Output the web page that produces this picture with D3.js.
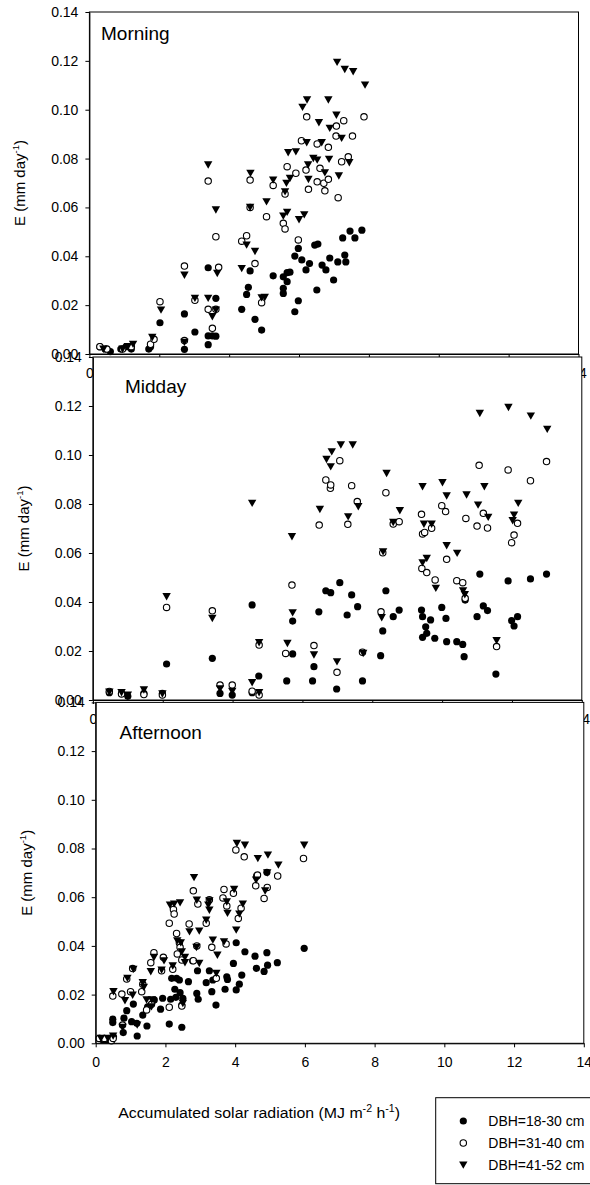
<!DOCTYPE html>
<html><head><meta charset="utf-8">
<script src="https://cdn.jsdelivr.net/npm/d3@7"></script>
<style>
body{margin:0;background:#fff}
text{font-family:Arial,"Liberation Sans",sans-serif;fill:#000}
</style>
</head><body><svg id="c" width="590" height="1185"></svg>
<script>
// ---------------- DATA ----------------
const panelNames = ["Morning", "Midday", "Afternoon"];
const xTicks = [0, 2, 4, 6, 8, 10, 12, 14];
const yTicks = [0, 0.02, 0.04, 0.06, 0.08, 0.10, 0.12, 0.14];
const seriesLabels = ["DBH=18-30 cm", "DBH=31-40 cm", "DBH=41-52 cm"];
const xTitle = "Accumulated solar radiation";

// Morning
const morningDBH18 = [[0.3,0.003],[0.45,0.002],[0.6,0.001],[0.9,0.002],[1.05,0.003],[1.2,0.002],[1.7,0.002],[1.75,0.003],[2.02,0.0128],[2.72,0.0164],[2.72,0.0019],[3.02,0.009],[3.40,0.0353],[3.40,0.0074],[3.40,0.0038],[3.52,0.0074],[3.62,0.0228],[3.62,0.0073],[4.36,0.0183],[4.5,0.0244],[4.55,0.0273],[4.6,0.034],[4.74,0.0142],[4.93,0.0098],[5.26,0.032],[5.55,0.0248],[5.55,0.0269],[5.55,0.0316],[5.66,0.0296],[5.66,0.0333],[5.74,0.0335],[5.88,0.0401],[5.88,0.0173],[5.98,0.0432],[5.98,0.0218],[6.08,0.0385],[6.2,0.0344],[6.3,0.037],[6.45,0.0446],[6.54,0.045],[6.66,0.0364],[6.77,0.0344],[6.88,0.0393],[6.99,0.0303],[7.11,0.0377],[7.25,0.0475],[7.31,0.0405],[7.46,0.0503],[7.6,0.0475],[7.8,0.0507],[7.34,0.0377],[6.51,0.0262]];
const morningDBH31 = [[0.3,0.003],[0.5,0.002],[0.95,0.002],[1.2,0.003],[1.75,0.004],[1.85,0.006],[2.02,0.0214],[2.72,0.036],[2.72,0.0055],[3.02,0.022],[3.40,0.0708],[3.40,0.0183],[3.52,0.0105],[3.62,0.048],[3.62,0.0183],[3.70,0.0355],[4.36,0.0462],[4.5,0.0484],[4.6,0.0712],[4.6,0.060],[4.74,0.037],[4.93,0.021],[5.07,0.0562],[5.26,0.069],[5.55,0.0535],[5.6,0.0512],[5.6,0.0655],[5.66,0.0767],[5.91,0.074],[5.98,0.0467],[6.07,0.0873],[6.2,0.0753],[6.22,0.0971],[6.27,0.0674],[6.52,0.086],[6.52,0.0705],[6.6,0.076],[6.71,0.0699],[6.74,0.0668],[6.84,0.0846],[6.84,0.0715],[7.06,0.0892],[7.07,0.0933],[7.12,0.064],[7.22,0.0787],[7.28,0.0955],[7.41,0.0807],[7.53,0.0892],[7.86,0.0971]];
const morningDBH41 = [[0.4,0.002],[0.95,0.002],[1.1,0.003],[1.25,0.004],[1.8,0.0068],[2.05,0.018],[2.72,0.0323],[2.72,0.0048],[3.02,0.0228],[3.40,0.0774],[3.40,0.0228],[3.52,0.0153],[3.62,0.059],[3.66,0.033],[3.62,0.018],[4.36,0.035],[4.5,0.0446],[4.61,0.074],[4.6,0.060],[4.74,0.042],[4.93,0.023],[5.02,0.0232],[5.07,0.0623],[5.26,0.0712],[5.55,0.0565],[5.6,0.0664],[5.64,0.0699],[5.66,0.058],[5.69,0.0824],[5.74,0.0719],[5.91,0.0828],[6.10,0.101],[6.22,0.0865],[6.23,0.104],[6.26,0.0774],[6.27,0.0715],[6.41,0.0801],[6.52,0.0794],[6.57,0.0947],[6.65,0.0865],[6.74,0.0742],[6.84,0.104],[6.86,0.0797],[6.88,0.0924],[7.07,0.0978],[7.09,0.1194],[7.14,0.0729],[7.22,0.0883],[7.31,0.1165],[7.44,0.0783],[7.55,0.1156],[7.89,0.1101],[6.15,0.057],[6.0,0.055]];

// Midday
const middayDBH18 = [[0.47,0.0030],[0.82,0.0027],[1.0,0.0015],[1.46,0.0027],[1.99,0.0027],[2.11,0.0147],[3.42,0.017],[3.64,0.0027],[3.99,0.002],[4.56,0.0388],[4.56,0.003],[4.75,0.0098],[5.55,0.0078],[5.72,0.0188],[5.72,0.0322],[6.29,0.0078],[6.33,0.0136],[6.47,0.036],[6.67,0.0446],[6.81,0.0438],[6.98,0.0045],[7.07,0.0479],[7.28,0.0347],[7.41,0.0429],[7.58,0.0381],[7.72,0.0078],[8.24,0.0181],[8.30,0.0282],[8.39,0.0446],[8.60,0.034],[8.77,0.0367],[9.41,0.0367],[9.44,0.034],[9.44,0.0256],[9.53,0.0299],[9.56,0.0272],[9.67,0.0327],[9.79,0.0252],[9.99,0.0378],[10.11,0.0333],[10.13,0.0238],[10.42,0.0238],[10.59,0.0227],[10.63,0.0177],[10.66,0.0408],[11.0,0.034],[11.08,0.0514],[11.18,0.0384],[11.3,0.0365],[11.54,0.0106],[11.89,0.0486],[11.99,0.0324],[12.06,0.0302],[12.16,0.034],[12.53,0.0494],[12.99,0.0514]];
const middayDBH31 = [[0.47,0.0035],[0.82,0.0025],[1.46,0.0022],[1.99,0.002],[2.11,0.0378],[3.42,0.0364],[3.64,0.0061],[3.99,0.0061],[4.56,0.0036],[4.76,0.0224],[4.76,0.002],[5.52,0.019],[5.70,0.0469],[6.33,0.0222],[6.48,0.0714],[6.67,0.0898],[6.80,0.0864],[6.81,0.0878],[6.99,0.0113],[7.07,0.0977],[7.30,0.0717],[7.41,0.0875],[7.57,0.081],[7.72,0.0195],[8.25,0.036],[8.30,0.0601],[8.39,0.0846],[8.60,0.0718],[8.77,0.0728],[9.41,0.0758],[9.42,0.0537],[9.44,0.0678],[9.50,0.0684],[9.56,0.052],[9.70,0.0701],[9.80,0.049],[9.99,0.0793],[10.10,0.0769],[10.13,0.0574],[10.42,0.0487],[10.59,0.0479],[10.66,0.0415],[10.68,0.0741],[11.0,0.071],[11.06,0.0958],[11.18,0.0762],[11.30,0.0702],[11.56,0.0218],[11.89,0.0939],[11.99,0.0642],[12.06,0.0673],[12.16,0.0721],[12.53,0.0895],[12.99,0.0973]];
const middayDBH41 = [[0.47,0.0032],[0.82,0.003],[1.0,0.002],[1.46,0.0041],[1.99,0.0025],[2.11,0.0422],[3.42,0.0333],[3.64,0.0045],[3.99,0.0035],[4.56,0.0803],[4.56,0.0071],[4.76,0.0234],[4.76,0.003],[5.57,0.0231],[5.70,0.0667],[5.72,0.0356],[6.33,0.0184],[6.50,0.0778],[6.69,0.0982],[6.81,0.0952],[6.84,0.1013],[6.99,0.0156],[7.10,0.1041],[7.31,0.0748],[7.44,0.1041],[7.60,0.0789],[7.74,0.019],[8.27,0.0336],[8.31,0.0605],[8.41,0.0925],[8.60,0.0725],[8.79,0.0773],[9.44,0.0871],[9.44,0.056],[9.48,0.0718],[9.56,0.0578],[9.70,0.0718],[9.82,0.0456],[10.01,0.0887],[10.13,0.0833],[10.13,0.063],[10.43,0.0599],[10.60,0.0446],[10.65,0.043],[10.70,0.0837],[11.03,0.0796],[11.08,0.117],[11.21,0.0871],[11.32,0.0746],[11.56,0.0242],[11.90,0.1194],[12.02,0.0732],[12.06,0.0755],[12.18,0.0803],[12.54,0.1159],[13.01,0.1105]];

// Afternoon
const afternoonDBH18 = [[0.12,0.002],[0.2,0.0015],[0.32,0.0015],[0.4,0.002],[0.49,0.0099],[0.49,0.0085],[0.51,0.0027],[0.79,0.0044],[0.81,0.0103],[0.89,0.0134],[1.03,0.0089],[1.08,0.0161],[1.18,0.0082],[1.19,0.003],[1.35,0.0116],[1.47,0.0071],[1.49,0.015],[1.68,0.0178],[1.86,0.014],[1.92,0.0185],[2.11,0.0079],[2.15,0.0181],[2.18,0.0267],[2.27,0.0222],[2.3,0.0189],[2.32,0.0267],[2.40,0.026],[2.42,0.0208],[2.47,0.0157],[2.47,0.0066],[2.50,0.0185],[2.66,0.0253],[2.78,0.0339],[2.90,0.0205],[2.92,0.0298],[2.94,0.0181],[3.17,0.0249],[3.26,0.0298],[3.33,0.0212],[3.36,0.026],[3.45,0.0157],[3.71,0.0222],[3.76,0.0273],[3.78,0.0262],[3.95,0.0328],[4.03,0.0413],[4.03,0.0219],[4.12,0.0243],[4.19,0.028],[4.28,0.0376],[4.57,0.0358],[4.61,0.0308],[4.83,0.0295],[4.91,0.0372],[4.93,0.0321],[4.91,0.0702],[5.21,0.0331],[5.98,0.039]];
const afternoonDBH31 = [[0.1,0.002],[0.25,0.002],[0.45,0.001],[0.49,0.0194],[0.5,0.002],[0.75,0.0202],[0.77,0.0075],[0.89,0.0264],[1.0,0.0212],[1.06,0.0307],[1.32,0.0212],[1.35,0.0242],[1.46,0.0137],[1.58,0.0331],[1.6,0.016],[1.67,0.0372],[1.89,0.0298],[1.94,0.0353],[2.11,0.0493],[2.11,0.0148],[2.21,0.0304],[2.23,0.055],[2.25,0.0531],[2.32,0.0451],[2.34,0.0367],[2.40,0.0413],[2.42,0.0394],[2.47,0.0342],[2.47,0.0153],[2.68,0.049],[2.80,0.0626],[2.80,0.0339],[2.90,0.04],[2.93,0.0572],[3.17,0.0493],[3.26,0.059],[3.33,0.0394],[3.46,0.0267],[3.65,0.0597],[3.68,0.0632],[3.74,0.0408],[3.76,0.0564],[3.95,0.0616],[4.02,0.0794],[4.09,0.0513],[4.17,0.0555],[4.26,0.0766],[4.59,0.0647],[4.62,0.0687],[4.64,0.0691],[4.83,0.0595],[4.92,0.064],[5.22,0.0687],[5.96,0.0759]];
const afternoonDBH41 = [[0.15,0.002],[0.35,0.002],[0.51,0.0212],[0.5,0.003],[0.77,0.0065],[0.84,0.0175],[0.91,0.0267],[1.06,0.0198],[1.08,0.0304],[1.19,0.0075],[1.35,0.0249],[1.38,0.023],[1.46,0.0178],[1.58,0.0294],[1.6,0.015],[1.61,0.0178],[1.67,0.0353],[1.89,0.0301],[1.96,0.0339],[2.13,0.0568],[2.21,0.0318],[2.25,0.0572],[2.34,0.0421],[2.42,0.0577],[2.44,0.0413],[2.47,0.0376],[2.50,0.0164],[2.56,0.0353],[2.56,0.0331],[2.69,0.0458],[2.82,0.0681],[2.89,0.0394],[2.90,0.0588],[2.97,0.0461],[2.97,0.0328],[3.17,0.0506],[3.23,0.0568],[3.26,0.0585],[3.26,0.0547],[3.36,0.0424],[3.46,0.0287],[3.49,0.0362],[3.68,0.0417],[3.76,0.0581],[3.78,0.0534],[3.97,0.0632],[4.03,0.0465],[4.05,0.0821],[4.12,0.0531],[4.22,0.0572],[4.28,0.0814],[4.6,0.067],[4.65,0.0759],[4.86,0.0626],[4.92,0.07],[4.94,0.0773],[5.24,0.0732],[5.98,0.0814]];

// ---------------- DRAW ----------------
const svg = d3.select("#c");
svg.append("rect").attr("width", 590).attr("height", 1185).attr("fill", "#fff");

const panels = [
  {name: panelNames[0], s: [morningDBH18, morningDBH31, morningDBH41], left: 89.4, right: 578.5, top: 12, bottom: 354, tx: 101, ty: 40},
  {name: panelNames[1], s: [middayDBH18, middayDBH31, middayDBH41], left: 92.9, right: 581.8, top: 357, bottom: 700, tx: 125, ty: 393},
  {name: panelNames[2], s: [afternoonDBH18, afternoonDBH31, afternoonDBH41], left: 95.7, right: 583.8, top: 702.4, bottom: 1043.3, tx: 119.5, ty: 739}
];

const triPath = "M-4.2,-3.6L4.2,-3.6L0,3.8Z";
function drawSymbol(g, k, x, y) {
  if (k === 0) {
    g.append("circle").attr("cx", x).attr("cy", y).attr("r", 3.6).attr("fill", "#000");
  } else if (k === 1) {
    g.append("circle").attr("cx", x).attr("cy", y).attr("r", 3.2).attr("fill", "#fff").attr("stroke", "#000").attr("stroke-width", 1.1);
  } else {
    g.append("path").attr("d", triPath).attr("transform", `translate(${x},${y})`).attr("fill", "#000");
  }
}

const fontTick = "14px";
panels.forEach((p, i) => {
  const g = svg.append("g");
  const x = d3.scaleLinear().domain([0, 14]).range([p.left, p.right]);
  const y = d3.scaleLinear().domain([0, 0.14]).range([p.bottom, p.top]);

  g.append("rect").attr("x", p.left).attr("y", p.top)
    .attr("width", p.right - p.left).attr("height", p.bottom - p.top)
    .attr("fill", "#fff").attr("stroke", "#000").attr("stroke-width", 1);

  const pts = g.append("g");
  p.s.forEach((arr, k) => {
    arr.forEach(d => drawSymbol(pts, k, x(d[0]), y(d[1])));
  });

  const ya = g.append("g").attr("transform", `translate(${p.left},0)`)
    .call(d3.axisLeft(y).tickValues(yTicks).tickFormat(d3.format(".2f")).tickSize(4).tickSizeOuter(0).tickPadding(7));
  const xa = g.append("g").attr("transform", `translate(0,${p.bottom})`)
    .call(d3.axisBottom(x).tickValues(xTicks).tickFormat(d3.format("d")).tickSize(4).tickSizeOuter(0).tickPadding(10));
  [ya, xa].forEach(a => {
    a.selectAll("path").attr("stroke", "#000");
    a.selectAll("line").attr("stroke", "#000");
    a.selectAll("text").attr("font-size", fontTick).attr("font-family", "Arial, 'Liberation Sans', sans-serif").attr("fill", "#000");
  });

  g.append("text").attr("x", p.tx).attr("y", p.ty).attr("font-size", "19px").text(p.name);

  const yt = g.append("text")
    .attr("transform", `translate(${p.left - 64},${(p.top + p.bottom) / 2}) rotate(-90)`)
    .attr("text-anchor", "middle").attr("font-size", "15px");
  yt.append("tspan").text("E (mm day");
  yt.append("tspan").attr("font-size", "9.5px").attr("dy", "-6").text("-1");
  yt.append("tspan").attr("dy", "6").text(")");
});

// x axis title
const xt = svg.append("text").attr("transform", "translate(400,1118.3) scale(1.06,1)")
  .attr("x", 0).attr("y", 0).attr("text-anchor", "end").attr("font-size", "15px");
xt.append("tspan").text(xTitle + " (MJ m");
xt.append("tspan").attr("font-size", "10px").attr("dy", "-6").text("-2");
xt.append("tspan").attr("dy", "6").text(" h");
xt.append("tspan").attr("font-size", "10px").attr("dy", "-6").text("-1");
xt.append("tspan").attr("dy", "6").text(")");

const lg = svg.append("g");
lg.append("rect").attr("x", 435.7).attr("y", 1097.7).attr("width", 200).attr("height", 86)
  .attr("fill", "#fff").attr("stroke", "#000").attr("stroke-width", 1);
seriesLabels.forEach((lab, k) => {
  const cy = 1121 + k * 22;
  drawSymbol(lg, k, 463.3, cy);
  lg.append("text").attr("x", 488.3).attr("y", cy + 5).attr("font-size", "14px").text(lab);
});
</script>
</body></html>
